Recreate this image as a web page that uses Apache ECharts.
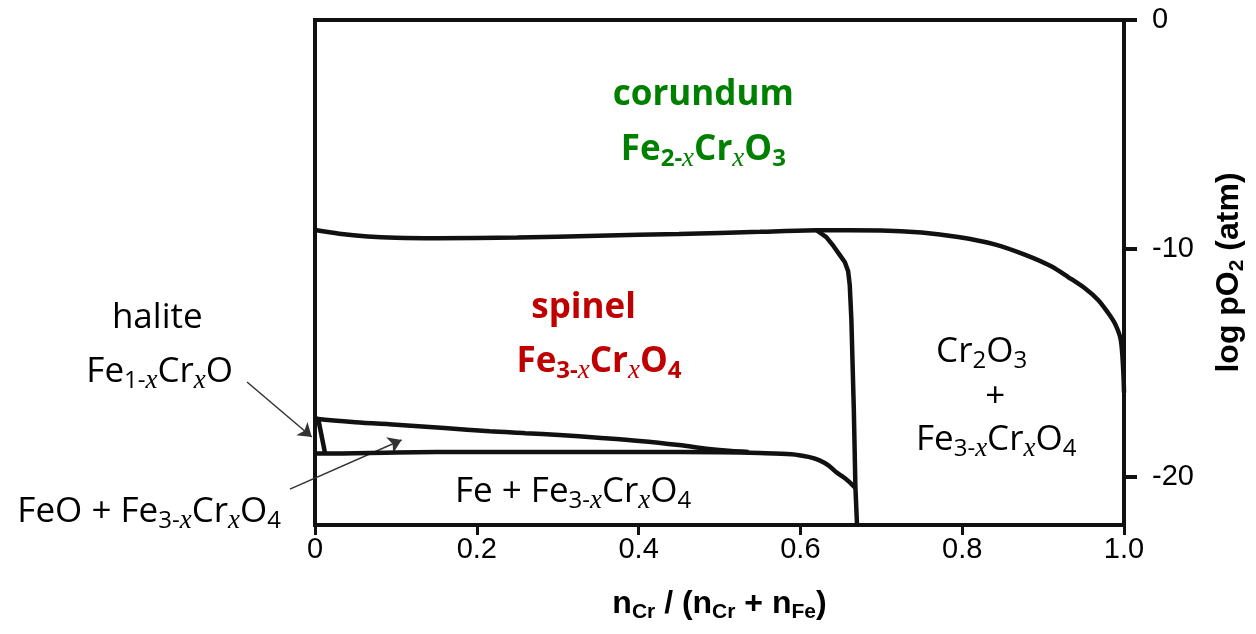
<!DOCTYPE html>
<html>
<head>
<meta charset="utf-8">
<script src="https://cdn.jsdelivr.net/npm/echarts@6/dist/echarts.min.js"></script>
<style>
  html, body { margin: 0; background: #fff; }
  #chart { width: 1256px; height: 634px; }
</style>
</head>
<body>
<div id="chart"></div>
<script>
// x = nCr/(nCr+nFe), y = log pO2 (atm)
// corundum / spinel boundary (and corundum / Cr2O3 boundary on the right)
const topX = [0, 0.03, 0.065, 0.1, 0.15, 0.25, 0.35, 0.45, 0.55, 0.62, 0.7, 0.75, 0.795, 0.84, 0.878, 0.91, 0.931, 0.952, 0.968, 0.98, 0.989, 0.996, 0.999, 1.0];
const topY = [-9.19, -9.35, -9.47, -9.53, -9.55, -9.52, -9.44, -9.36, -9.27, -9.2, -9.21, -9.3, -9.5, -9.82, -10.28, -10.78, -11.25, -11.75, -12.25, -12.8, -13.3, -14.0, -15.3, -16.3];
// spinel / (FeO + spinel) boundary
const spX = [0, 0.004, 0.05, 0.105, 0.16, 0.216, 0.26, 0.302, 0.35, 0.401, 0.45, 0.487, 0.515, 0.536];
const spY = [-17.4, -17.46, -17.6, -17.72, -17.86, -18.0, -18.08, -18.16, -18.28, -18.42, -18.6, -18.77, -18.86, -18.9];
// (FeO + spinel) / (Fe + spinel) boundary, then spinel / Fe + spinel
const feX = [0, 0.0125, 0.1, 0.2, 0.3, 0.4, 0.5, 0.55, 0.589, 0.61, 0.623, 0.635, 0.644, 0.653, 0.66, 0.668];
const feY = [-18.97, -18.97, -18.93, -18.9, -18.9, -18.9, -18.92, -18.95, -19.0, -19.12, -19.26, -19.5, -19.78, -20.0, -20.2, -20.48];
// halite / (FeO + spinel) boundary
const haX = [0.004, 0.0125];
const haY = [-17.46, -18.97];
// spinel / (Cr2O3 + spinel) boundary
const vX = [0.62, 0.632, 0.641, 0.649, 0.655, 0.659, 0.661, 0.663, 0.666, 0.668, 0.67];
const vY = [-9.2, -9.5, -9.9, -10.3, -10.6, -11.0, -11.6, -13.1, -17.0, -20.44, -22.1];

const xTickLabels = ['0', '0.2', '0.4', '0.6', '0.8', '1.0'];
const yTickValues = [0, -10, -20];

// region labels and where they sit
const labelText = [
  '{g|corundum}',
  '{g|Fe}{gs|2-}{gx|x}{g|Cr}{gx|x}{g|O}{gs|3}',
  '{r|spinel}',
  '{r|Fe}{rs|3-}{rx|x}{r|Cr}{rx|x}{r|O}{rs|4}',
  '{k|halite}',
  '{k|Fe}{ks|1-}{kx|x}{k|Cr}{kx|x}{k|O}',
  '{k|Cr}{ks|2}{k|O}{ks|3}',
  '{k|+}',
  '{k|Fe}{ks|3-}{kx|x}{k|Cr}{kx|x}{k|O}{ks|4}',
  '{k|Fe + Fe}{ks|3-}{kx|x}{k|Cr}{kx|x}{k|O}{ks|4}',
  '{k|FeO + Fe}{ks|3-}{kx|x}{k|Cr}{kx|x}{k|O}{ks|4}'
];
const labelX = [0.48, 0.48, 0.332, 0.351, -0.195, -0.192, 0.824, 0.841, 0.842, 0.319, -0.205];
const labelY = [-3.28, -5.69, -12.6, -14.97, -13.04, -15.41, -14.53, -16.5, -18.38, -20.66, -21.53];

// arrows: [fromX, fromY, toX, toY]
const arrows = [
  [-0.084, -15.84, -0.004, -18.25],
  [-0.031, -20.53, 0.107, -18.38]
];

const zip = (xs, ys) => xs.map((x, i) => [x, ys[i]]);

const SANS = '"Open Sans", "Noto Sans", sans-serif';
const SERIF = '"Liberation Serif", "DejaVu Serif", serif';
const ARIAL = '"Liberation Sans", Arial, sans-serif';
const makeStyles = (key, color, weight) => ({
  [key]: { color: color, fontFamily: SANS, fontWeight: weight, fontSize: 35, lineHeight: 44 },
  [key + 's']: { color: color, fontFamily: SANS, fontWeight: weight, fontSize: 24, lineHeight: 10, padding: [18, 0, 0, 0] },
  [key + 'x']: { color: color, fontFamily: SERIF, fontStyle: 'italic', fontWeight: 'normal', fontSize: 27, lineHeight: 10, padding: [18, 0, 0, 0] }
});
const rich = Object.assign({},
  makeStyles('g', '#008000', 'bold'),
  makeStyles('r', '#c00000', 'bold'),
  makeStyles('k', '#000', 'normal'));

const nameRich = { s: { color: '#000', fontSize: 21, fontWeight: 'bold', fontFamily: ARIAL, lineHeight: 10, padding: [17, 0, 0, 0] } };

const boundary = (pts, smooth) => ({
  type: 'line',
  data: pts,
  smooth: smooth,
  symbol: 'none',
  silent: true,
  lineStyle: { color: '#111', width: 4.5 }
});

const chart = echarts.init(document.getElementById('chart'));
chart.setOption({
  animation: false,
  backgroundColor: '#fff',
  grid: {
    left: 315, right: 130, top: 20, bottom: 109,
    show: true, borderColor: '#111', borderWidth: 4
  },
  xAxis: {
    type: 'value',
    min: 0, max: 1, interval: 0.2,
    axisLine: { show: true, onZero: false, lineStyle: { color: '#111', width: 4 } },
    axisTick: { show: true, length: 10, lineStyle: { color: '#111', width: 3 } },
    axisLabel: {
      color: '#000', fontSize: 29, fontFamily: ARIAL, margin: 10,
      formatter: v => xTickLabels[Math.round(v / 0.2)]
    },
    splitLine: { show: false },
    name: 'n{s|Cr} / (n{s|Cr} + n{s|Fe})',
    nameLocation: 'middle',
    nameGap: 60,
    nameTextStyle: { color: '#000', fontSize: 32, fontWeight: 'bold', fontFamily: ARIAL, lineHeight: 38, rich: nameRich }
  },
  yAxis: {
    type: 'value',
    position: 'right',
    min: -22.1, max: 0,
    axisLine: { show: true, onZero: false, lineStyle: { color: '#111', width: 4 } },
    axisTick: { show: true, length: 13, customValues: yTickValues, lineStyle: { color: '#111', width: 4 } },
    axisLabel: {
      color: '#000', fontSize: 29, fontFamily: ARIAL, margin: 28,
      customValues: yTickValues, align: 'left'
    },
    splitLine: { show: false },
    name: 'log pO{s|2} (atm)',
    nameLocation: 'middle',
    nameRotate: 90,
    nameGap: 86,
    nameTextStyle: { color: '#000', fontSize: 32, fontWeight: 'bold', fontFamily: ARIAL, lineHeight: 38, rich: nameRich }
  },
  series: [
    boundary(zip(topX, topY), 0.3),
    boundary(zip(spX, spY), 0.3),
    boundary(zip(feX, feY), 0.3),
    boundary(zip(haX, haY), false),
    boundary(zip(vX, vY), false),
    {
      type: 'lines',
      coordinateSystem: 'cartesian2d',
      clip: false,
      silent: true,
      symbol: ['none', 'arrow'],
      symbolSize: 13,
      lineStyle: { color: '#333', width: 1.5, opacity: 1 },
      data: arrows.map(a => ({ coords: [[a[0], a[1]], [a[2], a[3]]] }))
    },
    {
      type: 'scatter',
      clip: false,
      silent: true,
      symbolSize: 1,
      itemStyle: { color: 'transparent', opacity: 1 },
      data: labelX.map((x, i) => ({
        value: [x, labelY[i]],
        label: {
          show: true, position: 'inside', align: 'center', verticalAlign: 'middle',
          formatter: labelText[i], rich: rich
        }
      }))
    }
  ]
});
</script>
</body>
</html>
